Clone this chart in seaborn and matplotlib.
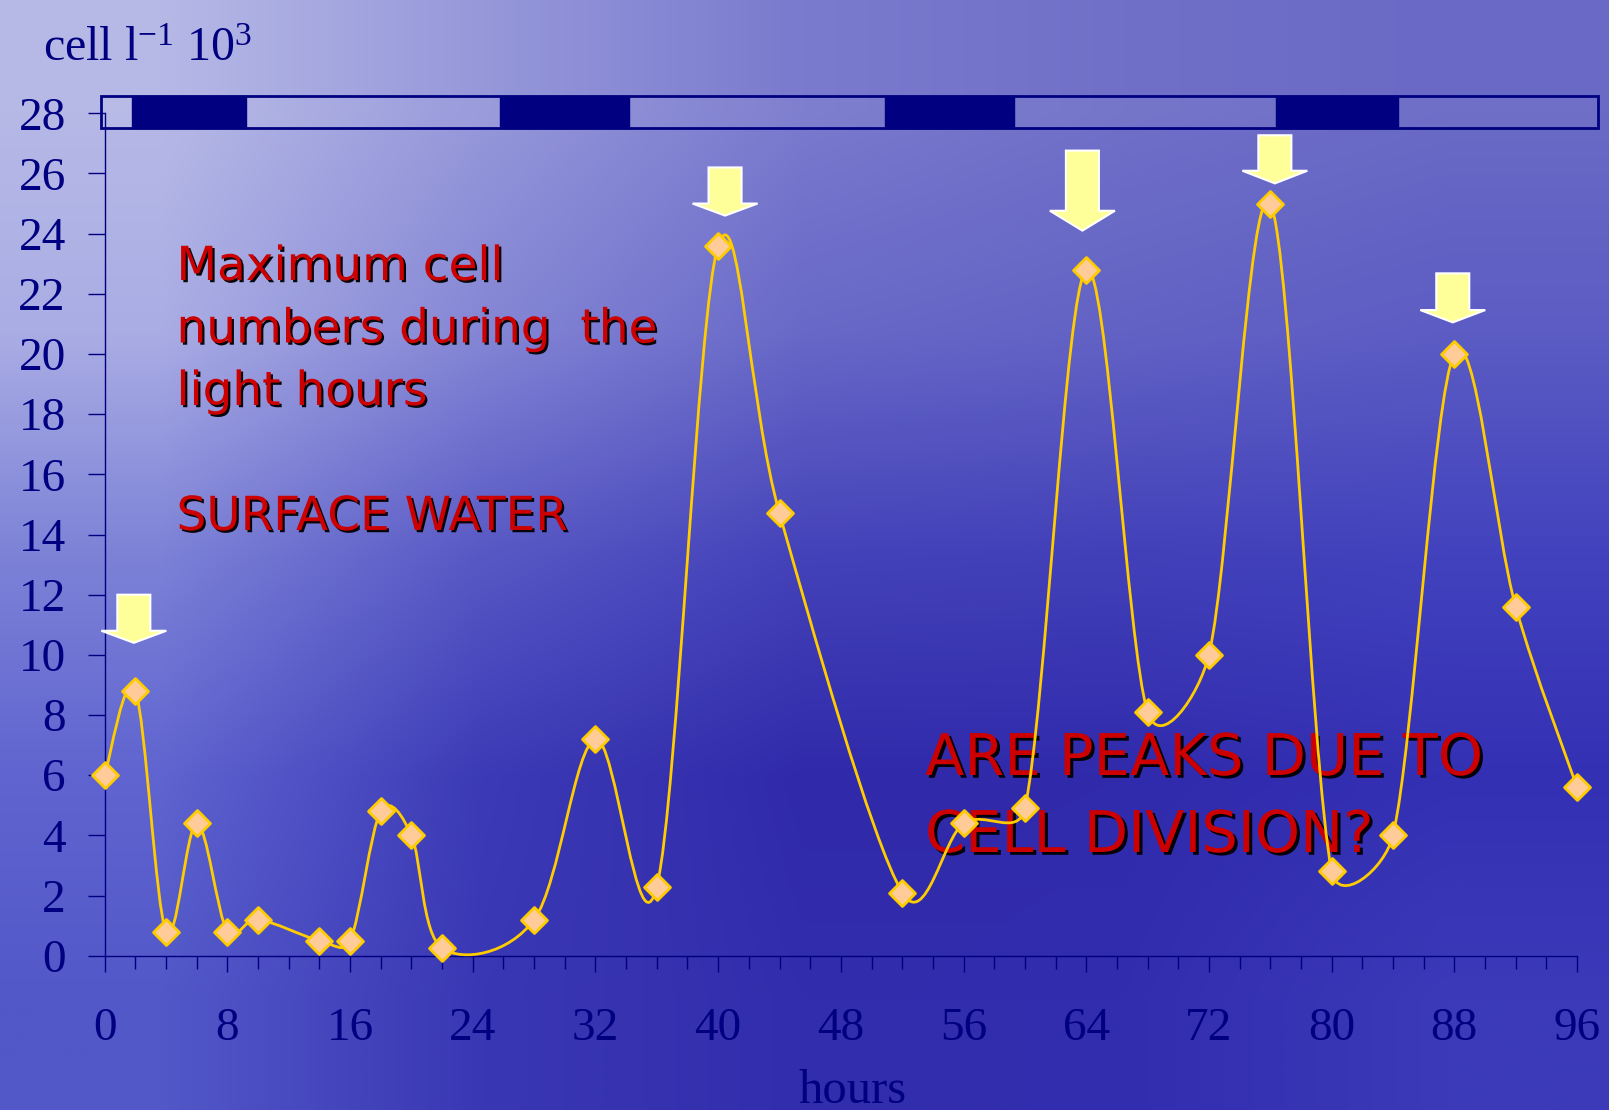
import numpy as np
import pandas as pd
import matplotlib
matplotlib.use("Agg")
import matplotlib.pyplot as plt
import seaborn as sns
from matplotlib.path import Path
from matplotlib.patches import PathPatch, Rectangle, Polygon
import matplotlib.patheffects as pe

# ---- data -------------------------------------------------------------
hours = [0, 2, 4, 6, 8, 10, 14, 16, 18, 20, 22, 28, 32, 36, 40, 44,
         52, 56, 60, 64, 68, 72, 76, 80, 84, 88, 92, 96]
cells = [6.0, 8.8, 0.8, 4.4, 0.8, 1.2, 0.5, 0.5, 4.8, 4.0, 0.25, 1.2, 7.2, 2.3,
         23.6, 14.7, 2.1, 4.4, 4.9, 22.8, 8.1, 10.0, 25.0, 2.8, 4.0, 20.0, 11.6, 5.6]

# dark (night) periods of the light/dark bar, in hours
night_start = [1.8, 25.8, 50.9, 76.4]
night_end = [9.2, 34.2, 59.3, 84.3]

# peaks marked with arrows
arrow_hours = [2, 40, 64, 76, 88]

x_ticks = list(range(0, 97, 8))
y_ticks = list(range(0, 29, 2))

# ---- style ------------------------------------------------------------
NAVY = "#000080"
LINE = "#ffcc00"
FILL = "#ffcc99"
RED = "#cc0000"
ARROW = "#ffff99"

sns.set_theme(style="white")
plt.rcParams["font.family"] = ["Liberation Serif", "DejaVu Serif"]
plt.rcParams["mathtext.fontset"] = "custom"
plt.rcParams["mathtext.rm"] = "Liberation Serif"
plt.rcParams["mathtext.it"] = "Liberation Serif:italic"

W, H = 1609, 1110
fig = plt.figure(figsize=(W / 100, H / 100), dpi=100)


def fx(px):
    return px / W


def fy(py):
    return 1 - py / H


# ---- water-blue backdrop ---------------------------------------------
bg_grid = np.array([
    [[182, 185, 230], [150, 152, 218], [122, 122, 206], [112, 112, 200], [106, 106, 198]],
    [[170, 173, 228], [132, 134, 213], [104, 104, 200], [98, 98, 197], [92, 92, 196]],
    [[125, 130, 215], [88, 88, 197], [68, 66, 185], [66, 64, 185], [66, 66, 190]],
    [[95, 100, 208], [60, 58, 182], [48, 42, 170], [48, 42, 172], [52, 48, 180]],
    [[82, 88, 200], [58, 55, 180], [50, 45, 172], [50, 45, 175], [60, 58, 185]],
], dtype=float) / 255.0
bg = fig.add_axes([0, 0, 1, 1], zorder=0)
bg.imshow(bg_grid, extent=[0, 1, 0, 1], aspect="auto",
          interpolation="bilinear", origin="upper")
bg.set_xlim(0, 1)
bg.set_ylim(0, 1)
bg.axis("off")

# ---- main axes --------------------------------------------------------
x0_px, x96_px = 104.7, 1577.0
y0_px, y28_px = 955.7, 113.3
ax = fig.add_axes([fx(x0_px), fy(y0_px), (x96_px - x0_px) / W, (y0_px - y28_px) / H],
                  zorder=1)
ax.patch.set_alpha(0)

# pixels per data unit, used to smooth in screen space
SX = (x96_px - x0_px) / 96.0
SY = (y0_px - y28_px) / 28.0


def smooth_path(xs, ys):
    """Cubic Bezier path through the points; the control arms are 1/6 of the
    neighbour chord, capped at half of the segment (measured on screen)."""
    pts = np.column_stack([np.asarray(xs, float) * SX, np.asarray(ys, float) * SY])
    n = len(pts)
    verts = [pts[0]]
    codes = [Path.MOVETO]
    for i in range(n - 1):
        p0 = pts[max(i - 1, 0)]
        p1 = pts[i]
        p2 = pts[i + 1]
        p3 = pts[min(i + 2, n - 1)]
        d12 = np.hypot(*(p2 - p1))
        a1 = (p2 - p0) / 6.0
        a2 = (p3 - p1) / 6.0
        for a in (a1, a2):
            la = np.hypot(*a)
            if la > d12 / 2.0 and la > 0:
                a *= (d12 / 2.0) / la
        verts += [p1 + a1, p2 - a2, p2]
        codes += [Path.CURVE4] * 3
    verts = np.array(verts) / np.array([SX, SY])
    return Path(verts, codes)


ax.add_patch(PathPatch(smooth_path(hours, cells), facecolor="none",
                       edgecolor=LINE, lw=2.0, zorder=3, clip_on=False))

df = pd.DataFrame({"hours": hours, "cells": cells})
sns.scatterplot(data=df, x="hours", y="cells", marker="D", s=175,
                color=FILL, edgecolor=LINE, linewidth=2.0, zorder=4,
                ax=ax, legend=False)
ax.collections[-1].set_clip_on(False)

ax.set_xlim(0, 96)
ax.set_ylim(0, 28)
ax.set_xlabel("")
ax.set_ylabel("")
ax.set_xticks(x_ticks)
ax.set_xticks(list(range(0, 97, 2)), minor=True)
ax.set_yticks(y_ticks)
ax.set_xticklabels([str(v) for v in x_ticks])
ax.set_yticklabels([str(v) for v in y_ticks])
ax.tick_params(axis="x", which="major", bottom=True, direction="out", length=11.5,
               width=1, color=NAVY, pad=26, labelsize=34, labelcolor=NAVY)
ax.tick_params(axis="x", which="minor", bottom=True, direction="out", length=9.5,
               width=1, color=NAVY)
ax.tick_params(axis="y", which="major", left=True, direction="out", length=12,
               width=1, color=NAVY, pad=16, labelsize=34, labelcolor=NAVY)
for side in ("top", "right"):
    ax.spines[side].set_visible(False)
for side in ("left", "bottom"):
    ax.spines[side].set_color(NAVY)
    ax.spines[side].set_linewidth(1.0)

# ---- light / dark bar across the top -----------------------------------
bar_y0, bar_y1 = 27.52, 28.57
bar_left, bar_right = -0.24, 97.4
ax.add_patch(Rectangle((bar_left, bar_y0), bar_right - bar_left, bar_y1 - bar_y0,
                       facecolor=(1, 1, 1, 0.04), edgecolor=NAVY, lw=2.0,
                       zorder=2, clip_on=False))
for s, e in zip(night_start, night_end):
    ax.add_patch(Rectangle((s, bar_y0), e - s, bar_y1 - bar_y0, facecolor=NAVY,
                           edgecolor=NAVY, lw=1.0, zorder=2, clip_on=False))

# ---- arrows over the peaks --------------------------------------------
arrow_dx = [-0.1, 0.45, -0.25, 0.3, -0.1]
arrow_gap = [1.6, 1.0, 1.3, 0.67, 1.05]
arrow_len = [1.6, 1.6, 2.66, 1.6, 1.63]
arrow_head = [0.40, 0.40, 0.66, 0.42, 0.41]
shaft_hw = 16.5 / SX
head_hw = 32.5 / SX
for h, dx, gap, ln, hd in zip(arrow_hours, arrow_dx, arrow_gap, arrow_len, arrow_head):
    xc = h + dx
    tip = cells[hours.index(h)] + gap
    top = tip + ln
    hb = tip + hd
    verts = [(xc - shaft_hw, top), (xc + shaft_hw, top), (xc + shaft_hw, hb),
             (xc + head_hw, hb), (xc, tip), (xc - head_hw, hb), (xc - shaft_hw, hb)]
    ax.add_patch(Polygon(verts, closed=True, facecolor=ARROW, edgecolor="white",
                         lw=1.5, zorder=5, clip_on=False))

# ---- texts ------------------------------------------------------------
fig.text(fx(42.7), fy(60.7), r"cell l$^{-1}$ 10$^{3}$", ha="left", va="baseline",
         fontsize=34.5, color=NAVY)
fig.text(fx(853), fy(1103), "hours", ha="center", va="baseline",
         fontsize=35, color=NAVY)

shadow1 = [pe.withSimplePatchShadow(offset=(1.6, -1.6), shadow_rgbFace="black", alpha=0.95)]
for line, base in zip(["Maximum cell", "numbers during  the", "light hours", "SURFACE WATER"],
                      [280, 342.5, 405, 530]):
    ax.text(fx(176.5), fy(base), line, transform=fig.transFigure, ha="left",
            va="baseline", fontsize=33.8, color=RED, family="DejaVu Sans",
            path_effects=shadow1, zorder=1)

shadow2 = [pe.withSimplePatchShadow(offset=(2.2, -2.0), shadow_rgbFace="black", alpha=0.95)]
for line, base in zip(["ARE PEAKS DUE TO", "CELL DIVISION?"], [775, 852]):
    ax.text(fx(925), fy(base), line, transform=fig.transFigure, ha="left",
            va="baseline", fontsize=41.4, color=RED, family="DejaVu Sans",
            path_effects=shadow2, zorder=1)

fig.savefig("out.png", dpi=100)
